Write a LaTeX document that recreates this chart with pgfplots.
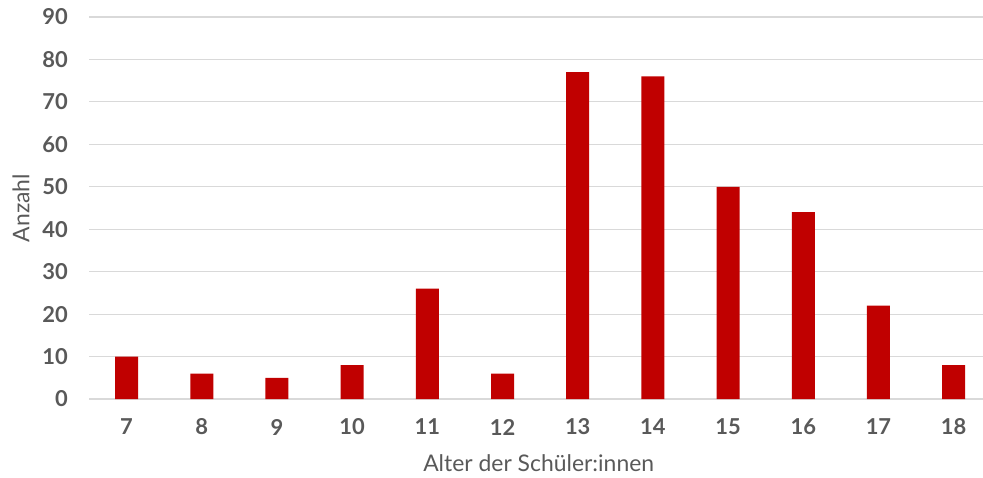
\documentclass[border=0pt]{standalone}
\usepackage{pgfplots}
\pgfplotsset{compat=1.18}
\usepackage{fontspec}
\setmainfont{Lato}
\definecolor{barred}{HTML}{C00000}
\definecolor{gridgray}{HTML}{D9D9D9}
\definecolor{textgray}{HTML}{595959}
\begin{document}
\begin{tikzpicture}
\path[use as bounding box] (0,0) rectangle (983bp,478bp);
\begin{axis}[
  at={(89bp,79bp)}, anchor=south west,
  scale only axis,
  width=894bp, height=382bp,
  xmin=-0.5, xmax=11.39,
  ymin=0, ymax=90,
  ytick={0,10,...,90},
  xtick=data,
  xticklabels={7,8,9,10,11,12,13,14,15,16,17,18},
  axis line style={draw=none},
  tick style={draw=none},
  ymajorgrids,
  grid style={gridgray, line width=1.2bp},
  /pgf/number format/assume math mode=true,
  ticklabel style={font=\fontsize{22}{24}\selectfont\bfseries, text=textgray, inner sep=0pt},
  yticklabel style={anchor=east, xshift=-21bp},
  xticklabel style={anchor=center, yshift=-28bp},
  xlabel={Alter der Schüler:innen},
  ylabel={Anzahl},
  label style={font=\fontsize{23}{25}\selectfont, text=textgray, inner sep=0pt},
  xlabel style={at={(axis description cs:0.503,0)}, anchor=center, yshift=-64bp},
  ylabel style={at={(axis description cs:0,0.5)}, anchor=center, yshift=68bp},
  clip=false,
]
\addplot[ybar, bar width=23bp, fill=barred, draw=none] coordinates {
  (0,10) (1,6) (2,5) (3,8) (4,26) (5,6)
  (6,77) (7,76) (8,50) (9,44) (10,22) (11,8)
};
\end{axis}
\end{tikzpicture}
\end{document}
